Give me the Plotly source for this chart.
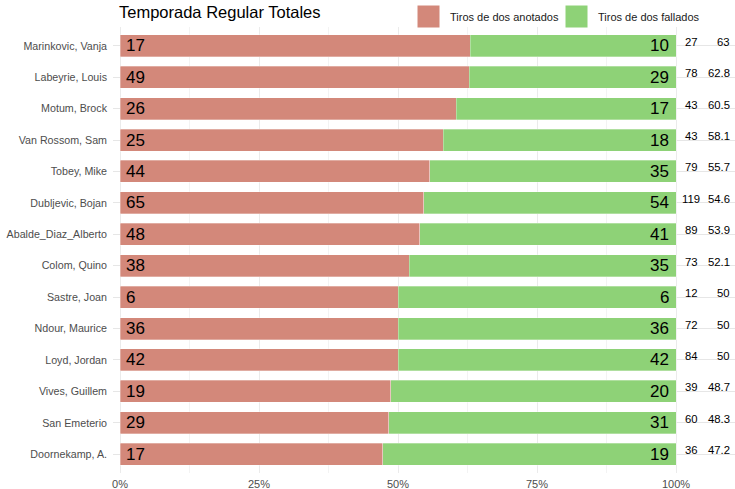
import plotly.graph_objects as go

# Jugadores y tiros de dos (temporada regular)
players = [
    "Marinkovic, Vanja", "Labeyrie, Louis", "Motum, Brock", "Van Rossom, Sam",
    "Tobey, Mike", "Dubljevic, Bojan", "Abalde_Diaz_Alberto", "Colom, Quino",
    "Sastre, Joan", "Ndour, Maurice", "Loyd, Jordan", "Vives, Guillem",
    "San Emeterio", "Doornekamp, A.",
]
made = [17, 49, 26, 25, 44, 65, 48, 38, 6, 36, 42, 19, 29, 17]
missed = [10, 29, 17, 18, 35, 54, 41, 35, 6, 36, 42, 20, 31, 19]
totals = [27, 78, 43, 43, 79, 119, 89, 73, 12, 72, 84, 39, 60, 36]
pct = ["63", "62.8", "60.5", "58.1", "55.7", "54.6", "53.9", "52.1",
       "50", "50", "50", "48.7", "48.3", "47.2"]

x_ticks = [0, 0.25, 0.5, 0.75, 1.0]
x_ticklabels = ["0%", "25%", "50%", "75%", "100%"]

C_MADE = "#D3887A"
C_MISS = "#8ED277"
TXT = "#4d4d4d"
FONT = "Liberation Sans, Arial, sans-serif"

W, H = 735, 489
ML, MR, MT, MB = 113, 0, 27, 16
PW, PH = W - ML - MR, H - MT - MB


def px_x(px):
    return (px - ML) / PW


def px_y(py):
    return (H - MB - py) / PH


frac_made = [m / (m + f) for m, f in zip(made, missed)]
frac_miss = [f / (m + f) for m, f in zip(made, missed)]

fig = go.Figure()
fig.add_trace(go.Bar(
    y=players, x=frac_made, orientation="h", name="Tiros de dos anotados",
    marker=dict(color=C_MADE, line=dict(width=0.6, color="rgba(255,255,255,0.5)")),
    width=0.7, xaxis="x", yaxis="y", hoverinfo="skip",
))
fig.add_trace(go.Bar(
    y=players, x=frac_miss, orientation="h", name="Tiros de dos fallados",
    marker=dict(color=C_MISS, line=dict(width=0.6, color="rgba(255,255,255,0.5)")),
    width=0.7, xaxis="x", yaxis="y", hoverinfo="skip",
))

annotations = []
# Counts inside the bars
for p, m, f in zip(players, made, missed):
    annotations.append(dict(x=0, y=p, xref="x", yref="y", text=str(m),
                            xanchor="left", yanchor="middle", xshift=4,
                            showarrow=False, font=dict(size=17, color="black", family=FONT)))
    annotations.append(dict(x=1, y=p, xref="x", yref="y", text=str(f),
                            xanchor="right", yanchor="middle", xshift=-5,
                            showarrow=False, font=dict(size=17, color="black", family=FONT)))

# Side column: total attempts and percentage
for p, t, pc in zip(players, totals, pct):
    annotations.append(dict(x=0.228, y=p, xref="x2", yref="y", text=str(t),
                            xanchor="center", yanchor="middle", yshift=4,
                            showarrow=False, font=dict(size=11.3, color="black", family=FONT)))
    annotations.append(dict(x=0.95, y=p, xref="x2", yref="y", text=pc,
                            xanchor="right", yanchor="middle", yshift=4,
                            showarrow=False, font=dict(size=11.3, color="black", family=FONT)))

# Title
annotations.append(dict(x=px_x(117), y=px_y(12), xref="paper", yref="paper",
                        text="Temporada Regular Totales", xanchor="left", yanchor="middle",
                        showarrow=False, font=dict(size=16.5, color="black", family=FONT)))

# Legend
shapes = []
legend_items = [("Tiros de dos anotados", C_MADE, 417), ("Tiros de dos fallados", C_MISS, 565)]
for label, col, x0 in legend_items:
    shapes.append(dict(type="rect", xref="paper", yref="paper",
                       x0=px_x(x0), x1=px_x(x0 + 23), y0=px_y(28), y1=px_y(5),
                       fillcolor=col, line=dict(width=1, color="white"), layer="above"))
    annotations.append(dict(x=px_x(x0 + 31), y=px_y(16.5), xref="paper", yref="paper",
                            text=label, xanchor="left", yanchor="middle", showarrow=False,
                            font=dict(size=11, color="#1a1a1a", family=FONT)))

x_split = (678 - ML) / PW

fig.update_layout(
    width=W, height=H,
    margin=dict(l=ML, r=MR, t=MT, b=MB, pad=0, autoexpand=False),
    paper_bgcolor="white", plot_bgcolor="white",
    barmode="stack", showlegend=False,
    font=dict(family=FONT, color=TXT),
    xaxis=dict(domain=[0, x_split], range=[-0.0126, 1.0036], tickvals=x_ticks,
               ticktext=x_ticklabels, showgrid=True, gridcolor="#ebebeb", gridwidth=1,
               minor=dict(tickvals=[0.125, 0.375, 0.625, 0.875], showgrid=True,
                          gridcolor="#f3f3f3", gridwidth=0.6),
               zeroline=False, showline=False, ticks="", fixedrange=True,
               tickfont=dict(size=11, color="#4d4d4d"), anchor="y", automargin=False,
               ticklabelstandoff=3),
    xaxis2=dict(domain=[x_split, 1], range=[0, 1], showgrid=False, zeroline=False,
                showticklabels=False, ticks="", showline=False, anchor="y",
                automargin=False),
    yaxis=dict(categoryorder="array", categoryarray=players[::-1],
               range=[-0.6, len(players) - 0.4], showgrid=True, gridcolor="#e6e6e6",
               gridwidth=1, zeroline=False, ticks="", showline=False, automargin=False,
               tickfont=dict(size=10.7, color="#4d4d4d"), ticklabelstandoff=5),
    annotations=annotations,
    shapes=shapes,
)

fig.write_html("out.html")
